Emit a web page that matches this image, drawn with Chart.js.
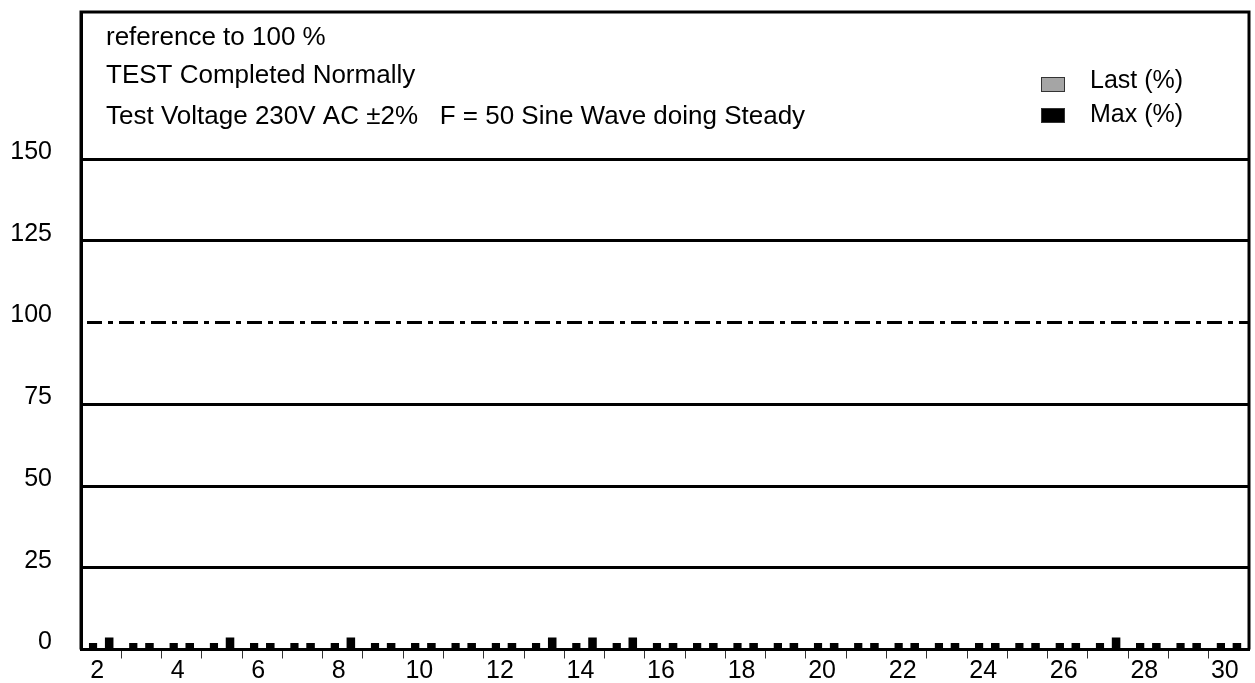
<!DOCTYPE html>
<html>
<head>
<meta charset="utf-8">
<script src="https://cdn.jsdelivr.net/npm/chart.js@4.4.1/dist/chart.umd.min.js"></script>
<style>
  html, body { margin: 0; padding: 0; background: #fff; }
</style>
</head>
<body>
<canvas id="harmonicChart" width="1255" height="683"></canvas>
<script>
// harmonic orders on the x axis
const harmonics = ['2', '3', '4', '5', '6', '7', '8', '9', '10', '11', '12', '13', '14', '15', '16',
  '17', '18', '19', '20', '21', '22', '23', '24', '25', '26', '27', '28', '29', '30'];

// values (% of limit)
const lastPercent = [2, 2, 2, 2, 2, 2, 2, 2, 2, 2, 2, 2, 2, 2, 2,
  2, 2, 2, 2, 2, 2, 2, 2, 2, 2, 2, 2, 2, 2];
const maxPercent = [3.7, 2, 2, 3.7, 2, 2, 3.7, 2, 2, 2, 2, 3.7, 3.7, 3.7, 2,
  2, 2, 2, 2, 2, 2, 2, 2, 2, 2, 3.7, 2, 2, 2];

const yTickValues = [0, 25, 50, 75, 100, 125, 150];
const yTop = 195;
const refLevel = 100;

const infoLines = [
  'reference to 100 %',
  'TEST Completed Normally',
  'Test Voltage 230V AC \u00b12%   F = 50 Sine Wave doing Steady'
];

const FONT = '"Liberation Sans", Arial, Helvetica, sans-serif';
Chart.defaults.font.family = FONT;
Chart.defaults.color = '#000';

// draws the frame, the dash-dot reference line, the notes and the legend
const decorations = {
  id: 'decorations',
  beforeDatasetsDraw(chart) {
    const { ctx, chartArea, scales } = chart;
    const y = scales.y.getPixelForValue(refLevel);
    ctx.save();
    ctx.strokeStyle = '#000';
    ctx.lineWidth = 3;
    ctx.setLineDash([15, 6, 5, 6]);
    ctx.lineDashOffset = -6;
    ctx.beginPath();
    ctx.moveTo(chartArea.left, y);
    ctx.lineTo(chartArea.right, y);
    ctx.stroke();
    ctx.restore();
  },
  afterDraw(chart) {
    const { ctx, chartArea } = chart;
    ctx.save();
    ctx.strokeStyle = '#000';
    ctx.lineWidth = 3;
    ctx.beginPath();
    ctx.moveTo(chartArea.left, chartArea.bottom);
    ctx.lineTo(chartArea.left, chartArea.top);
    ctx.lineTo(chartArea.right, chartArea.top);
    ctx.lineTo(chartArea.right, chartArea.bottom);
    ctx.stroke();

    ctx.fillStyle = '#000';
    ctx.font = '26px ' + FONT;
    ctx.textBaseline = 'alphabetic';
    ctx.textAlign = 'left';
    const lineY = [45, 83, 124];
    infoLines.forEach((text, i) => ctx.fillText(text, 106, lineY[i]));

    // legend
    ctx.font = '25px ' + FONT;
    const rows = [88, 122];
    const boxTop = [77, 108];
    chart.data.datasets.forEach((ds, i) => {
      ctx.fillStyle = ds.backgroundColor;
      ctx.fillRect(1041, boxTop[i], 24, 15);
      ctx.lineWidth = 1;
      ctx.strokeStyle = '#333';
      ctx.strokeRect(1041.5, boxTop[i] + 0.5, 23, 14);
      ctx.fillStyle = '#000';
      ctx.fillText(ds.label, 1090, rows[i]);
    });
    ctx.restore();
  }
};

new Chart(document.getElementById('harmonicChart'), {
  type: 'bar',
  data: {
    labels: harmonics,
    datasets: [
      {
        label: 'Last (%)',
        data: lastPercent,
        backgroundColor: '#a5a5a5',
        borderColor: '#000',
        borderWidth: 6,
        categoryPercentage: 0.8,
        barPercentage: 0.53
      },
      {
        label: 'Max (%)',
        data: maxPercent,
        backgroundColor: '#000',
        borderWidth: 0,
        categoryPercentage: 0.8,
        barPercentage: 0.53
      }
    ]
  },
  options: {
    responsive: false,
    animation: false,
    devicePixelRatio: 1,
    layout: { padding: { top: 12, right: 6, left: 0, bottom: 0 } },
    plugins: {
      legend: { display: false },
      tooltip: { enabled: false }
    },
    scales: {
      x: {
        afterFit(scale) {
          scale.height = 33.5;
          scale.paddingLeft = 0;
          scale.paddingRight = 0;
        },
        grid: {
          offset: true,
          drawOnChartArea: false,
          drawTicks: true,
          tickLength: 9,
          tickWidth: 1,
          tickColor: ctx => (ctx.type !== 'tick' || ctx.index === 0) ? 'rgba(0,0,0,0)' : '#333'
        },
        border: { display: true, color: '#000', width: 3 },
        ticks: {
          autoSkip: false,
          maxRotation: 0,
          padding: -2,
          labelOffset: -4,
          font: { size: 25 },
          callback(value, index) {
            const label = harmonics[index];
            return Number(label) % 2 === 0 ? label : '';
          }
        }
      },
      y: {
        min: 0,
        max: yTop,
        afterFit(scale) {
          scale.width = 81;
          scale.paddingTop = 0;
          scale.paddingBottom = 0;
        },
        afterBuildTicks(scale) {
          scale.ticks = yTickValues.map(v => ({ value: v }));
        },
        grid: {
          drawTicks: false,
          lineWidth: 3,
          color: ctx => (ctx.tick && ctx.tick.value === refLevel) ? 'rgba(0,0,0,0)' : '#000'
        },
        border: { display: true, color: '#000', width: 3 },
        ticks: {
          padding: 29,
          labelOffset: -7,
          font: { size: 25 }
        }
      }
    }
  },
  plugins: [decorations]
});
</script>
</body>
</html>
